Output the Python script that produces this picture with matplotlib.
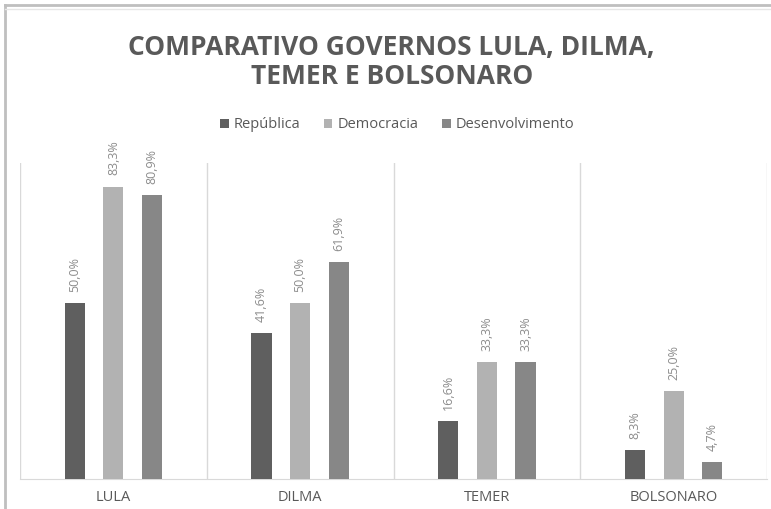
import matplotlib.pyplot as plt
import numpy as np
from matplotlib.lines import Line2D

governos = ['LULA', 'DILMA', 'TEMER', 'BOLSONARO']
series = ['República', 'Democracia', 'Desenvolvimento']
republica = [0.500, 0.416, 0.166, 0.083]
democracia = [0.833, 0.500, 0.333, 0.250]
desenvolvimento = [0.809, 0.619, 0.333, 0.047]
colors = ['#5f5f5f', '#b2b2b2', '#878787']

plt.rcParams['font.family'] = ['Open Sans', 'DejaVu Sans']

fig = plt.figure(figsize=(7.71, 5.09), dpi=100)
ax = fig.add_axes([20 / 771, 1 - 479 / 509, 747 / 771, 316 / 509])

x = np.arange(len(governos))
width = 0.108
step = 0.207
for i, (vals, name) in enumerate(zip([republica, democracia, desenvolvimento], series)):
    pos = x + (i - 1) * step
    bars = ax.bar(pos, vals, width, color=colors[i], label=name, zorder=3)
    for b, v in zip(bars, vals):
        ax.annotate(f'{v * 100:.1f}%'.replace('.', ','), xy=(b.get_x() + b.get_width() / 2, v),
                    xytext=(0, 8), textcoords='offset points', rotation=90,
                    ha='center', va='bottom', fontsize=9, color='#8c8c8c')

ax.set_xlim(-0.5, len(governos) - 0.5)
ax.set_ylim(0, 0.9)
ax.set_yticks([])
ax.set_xticks(x)
ax.set_xticklabels(governos, fontsize=10.5, color='#595959')
ax.tick_params(axis='x', length=0, pad=8)
for s in ['top', 'right', 'left']:
    ax.spines[s].set_visible(False)
ax.spines['bottom'].set_color('#d9d9d9')
for b in np.arange(-0.5, len(governos), 1.0):
    ax.axvline(b, color='#d9d9d9', linewidth=1, zorder=1)

fig.text(0.508, 1 - 47 / 509, 'COMPARATIVO GOVERNOS LULA, DILMA,', ha='center', va='center',
         fontsize=19, fontweight='bold', color='#595959')
fig.text(0.508, 1 - 77 / 509, 'TEMER E BOLSONARO', ha='center', va='center',
         fontsize=19, fontweight='bold', color='#595959')

fig.legend(loc='center', bbox_to_anchor=(0.515, 1 - 125 / 509), ncol=3, frameon=False,
           fontsize=10.5, labelcolor='#595959', handlelength=0.6, handleheight=0.6,
           handletextpad=0.35, columnspacing=1.6)

# moldura da planilha
fig.add_artist(Line2D([5 / 771, 5 / 771], [0, 1 - 5 / 509], color='#bfbfbf', linewidth=2))
fig.add_artist(Line2D([5 / 771, 1], [1 - 5 / 509, 1 - 5 / 509], color='#bfbfbf', linewidth=2))
fig.add_artist(Line2D([5 / 771, 1], [1 - 9 / 509, 1 - 9 / 509], color='#e6e6e6', linewidth=1))

fig.savefig('out.png', dpi=100)
